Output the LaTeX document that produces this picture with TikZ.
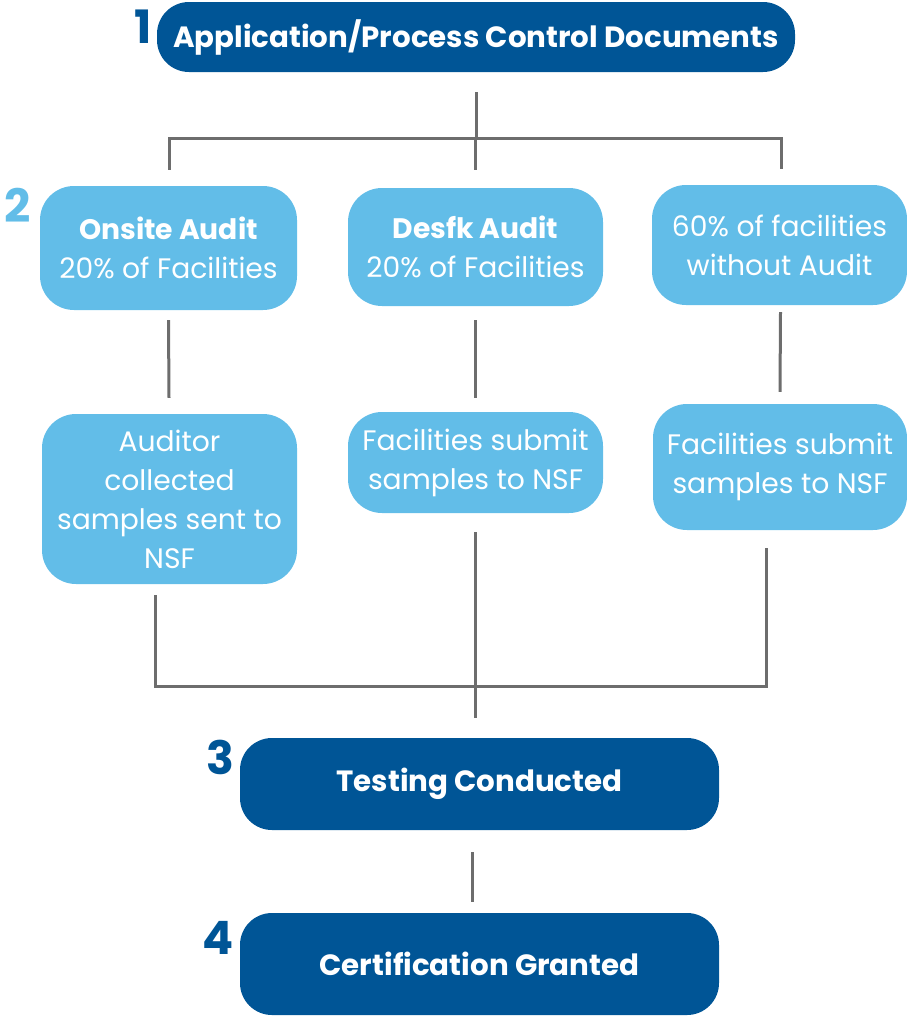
\documentclass[tikz,border=0pt]{standalone}
\usepackage{fontspec}
\setmainfont{Poppins}
\definecolor{dblue}{HTML}{005596}
\definecolor{lblue}{HTML}{62BDE8}
\definecolor{lgray}{HTML}{6D6D6D}
\begin{document}
\begin{tikzpicture}[x=1pt,y=-1pt,
  darkbox/.style={fill=dblue, text=white, rounded corners=32pt, inner sep=0pt, font=\bfseries\fontsize{29.3}{34}\selectfont},
  lightbox/.style={fill=lblue, text=white, rounded corners=34pt, inner sep=0pt, align=center, font=\fontsize{28.2}{39}\selectfont},
  conn/.style={draw=lgray, line width=3pt},
  numd/.style={text=dblue, font=\bfseries\fontsize{46}{46}\selectfont, inner sep=0pt},
  numl/.style={text=lblue, font=\bfseries\fontsize{46}{46}\selectfont, inner sep=0pt}]
\useasboundingbox (0,0) rectangle (907,1017);

\node[darkbox, minimum width=638pt, minimum height=70pt] (top) at (476,37) {Application/Process Control Documents};
\node[lightbox, minimum width=257pt, minimum height=124pt] (onsite) at (168.5,248) {\textbf{Onsite Audit}\\20\% of Facilities};
\node[lightbox, minimum width=255pt, minimum height=118pt] (desk) at (475.5,247) {\textbf{Desfk Audit}\\20\% of Facilities};
\node[lightbox, minimum width=255pt, minimum height=120pt] (sixty) at (779.5,245) {60\% of facilities\\without Audit};
\node[lightbox, minimum width=255pt, minimum height=170pt] (auditor) at (169.5,499) {Auditor\\collected\\samples sent to\\NSF};
\node[lightbox, minimum width=255pt, minimum height=101pt] (facm) at (475.5,462.5) {Facilities submit\\samples to NSF};
\node[lightbox, minimum width=254pt, minimum height=126pt] (facr) at (780,467) {Facilities submit\\samples to NSF};
\node[darkbox, minimum width=479pt, minimum height=92pt] (testing) at (479.5,784) {Testing Conducted};
\node[darkbox, minimum width=479pt, minimum height=102pt] (cert) at (479.5,964) {Certification Granted};

\node[numd] (n1) at (143,27) {1};
\node[numl] (n2) at (18,205) {2};
\node[numd] (n3) at (220,757) {3};
\node[numd] (n4) at (218,938) {4};

\coordinate (j1) at (475,138);
\coordinate (j2) at (475,686);
\draw[conn] ([yshift=-20pt]top.south) -- (top.south |- j1);
\draw[conn] ([xshift=0.5pt,yshift=16pt]onsite.north) |- (j1) -| ([xshift=1.5pt,yshift=16pt]sixty.north);
\draw[conn] ([yshift=18pt]desk.north) -- (desk.north |- j1);
\draw[conn] ([yshift=-10pt]onsite.south) -- ([xshift=-0.5pt,yshift=16pt]auditor.north);
\draw[conn] ([yshift=-14pt]desk.south) -- ([yshift=14pt]facm.north);
\draw[conn] ([xshift=1pt,yshift=-7pt]sixty.south) -- ([xshift=0pt,yshift=12pt]facr.north);
\draw[conn] ([xshift=-14pt,yshift=-11pt]auditor.south) |- (j2) -| ([xshift=-14pt,yshift=-18pt]facr.south);
\path ([yshift=20pt]testing.north) coordinate (tn);
\draw[conn] ([xshift=-0.5pt,yshift=-19pt]facm.south) -- (tn -| j2);
\draw[conn] ([xshift=-7.5pt,yshift=-22pt]testing.south) -- ([xshift=-7.5pt,yshift=11pt]cert.north);
\end{tikzpicture}
\end{document}
